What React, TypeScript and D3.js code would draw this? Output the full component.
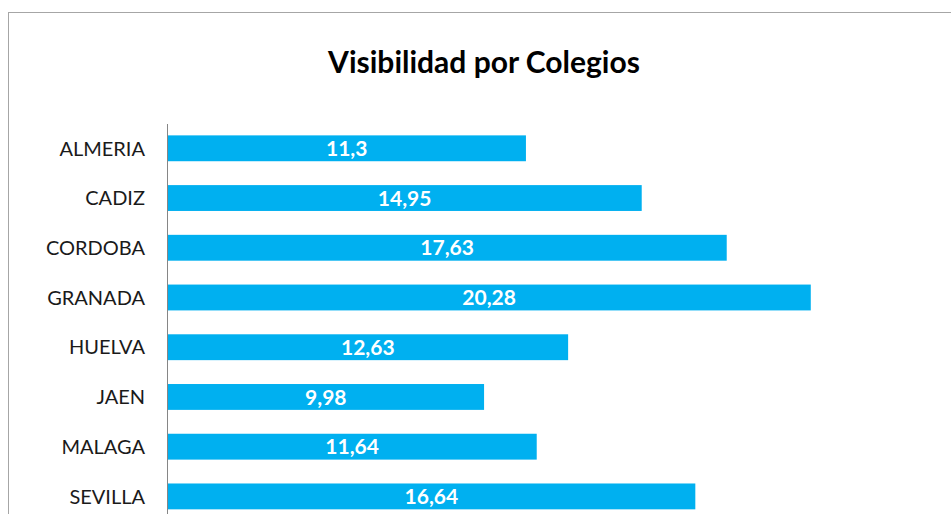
import React from "react";
import * as d3 from "d3";

const categories = ["ALMERIA", "CADIZ", "CORDOBA", "GRANADA", "HUELVA", "JAEN", "MALAGA", "SEVILLA"];
const values = [11.3, 14.95, 17.63, 20.28, 12.63, 9.98, 11.64, 16.64];
const valueLabels = ["11,3", "14,95", "17,63", "20,28", "12,63", "9,98", "11,64", "16,64"];
const title = "Visibilidad por Colegios";

const W = 951;
const H = 514;
const x0 = 167.5;
const pxPerUnit = 31.72;
const firstCenter = 148.3;
const step = 49.73;

export default function App() {
  const x = d3.scaleLinear().domain([0, 1]).range([x0, x0 + pxPerUnit]);
  const y = d3
    .scaleBand<string>()
    .domain(categories)
    .range([firstCenter - step / 2, firstCenter - step / 2 + step * categories.length])
    .paddingInner(0.48)
    .paddingOuter(0.24);
  const font = "Lato, 'Open Sans', sans-serif";
  return (
    <svg
      width={W}
      height={H}
      style={{ position: "absolute", left: 0, top: 0, background: "#fff" }}
      fontFamily={font}
    >
      <rect x={8.5} y={12.5} width={W + 20} height={H + 20} fill="#fff" stroke="#a6a6a6" strokeWidth={1} />
      <text x={484} y={73} textAnchor="middle" fontSize={30} fontWeight={700} fill="#000">
        {title}
      </text>
      {categories.map((c, i) => {
        const yb = y(c)!;
        const bw = y.bandwidth();
        const xe = x(values[i]);
        return (
          <g key={c}>
            <rect x={x(0)} y={yb} width={xe - x(0)} height={bw} fill="#00b0f0" />
            <text
              x={(x(0) + xe) / 2}
              y={yb + bw / 2}
              dy="0.36em"
              textAnchor="middle"
              fontSize={21}
              fontWeight={700}
              fill="#fff"
            >
              {valueLabels[i]}
            </text>
            <text x={145} y={yb + bw / 2} dy="0.36em" textAnchor="end" fontSize={20} fill="#1a1a1a">
              {c}
            </text>
          </g>
        );
      })}
      <line x1={x0} x2={x0} y1={124} y2={H} stroke="#868686" strokeWidth={1} />
    </svg>
  );
}
